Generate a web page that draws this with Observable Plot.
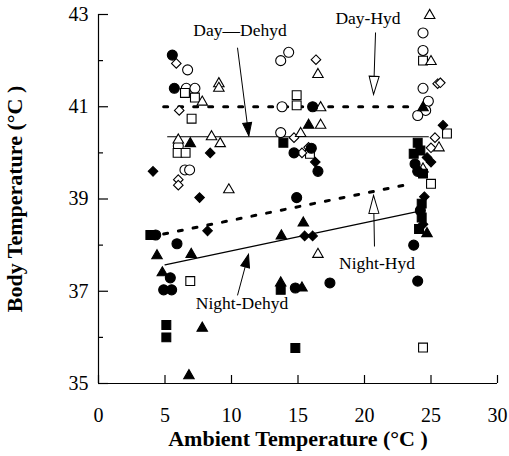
<!DOCTYPE html>
<html><head><meta charset="utf-8">
<script src="https://cdn.jsdelivr.net/npm/d3@7"></script>
<script src="https://cdn.jsdelivr.net/npm/@observablehq/plot@0.6"></script>
<style>body{margin:0;background:#fff} svg{display:block}</style>
</head><body><div id="chart"></div>
<script>
// ---- data (x = ambient temperature, y = body temperature) ----
const openCircle = [[6.7,41.8],[6.6,41.4],[7.25,41.4],[6.0,40.15],[6.5,39.63],[6.85,39.63],
  [13.7,42.0],[14.3,42.18],[13.8,41.0],[13.7,40.44],
  [24.4,42.6],[24.4,42.22],[24.4,41.4],[24.8,41.12],[24.6,40.92],[24.0,40.81]];
const openDiamond = [[5.85,41.94],[6.07,40.92],[6.0,39.42],[6.0,39.3],[16.35,42.02],[14.7,40.33],
  [15.3,40.0],[15.8,40.12],[25.5,41.5],[25.7,41.52],[25.3,40.33],[25.0,40.11]];
const openSquare = [[6.5,41.3],[7.25,41.2],[7.0,40.74],[5.95,40.0],[6.55,40.0],[6.9,37.22],
  [14.9,41.25],[14.9,41.03],[15.9,39.98],[24.4,42.0],[26.2,40.42],[25.0,39.33],[24.4,35.78]];
const openTriangle = [[7.8,41.1],[9.05,41.5],[9.05,41.4],[6.0,40.28],[8.5,40.35],[9.15,40.2],[9.8,39.2],
  [16.5,41.7],[16.7,40.98],[16.7,40.6],[15.2,40.42],[16.5,37.8],
  [24.9,42.98],[25.0,41.98],[25.6,40.11],[24.4,39.65]];
const filledCircle = [[5.55,42.12],[5.7,41.4],[4.3,38.22],[5.9,38.03],[5.4,37.29],[4.9,37.03],[5.5,37.03],
  [14.7,40.0],[16.0,40.1],[16.5,39.6],[14.9,39.03],[16.1,41.0],[14.8,37.07],[17.4,37.18],
  [23.8,39.76],[24.0,39.6],[24.2,38.75],[23.7,38.0],[24.0,37.22]];
const filledDiamond = [[8.4,40.0],[4.1,39.6],[7.6,39.03],[8.2,38.31],[16.3,39.8],[15.5,38.2],[16.1,38.2],
  [25.9,40.6],[24.7,39.9],[25.0,39.8],[24.5,39.05],[24.4,38.45]];
const filledSquare = [[3.9,38.22],[5.1,36.27],[5.1,36.0],[13.9,40.22],[13.7,37.03],[14.8,35.77],
  [24.0,40.22],[24.2,40.05],[23.7,39.98],[24.4,39.55],[24.3,38.9],[24.3,38.6],[24.1,38.35]];
const filledTriangle = [[6.9,40.2],[4.4,37.77],[6.97,37.8],[4.8,37.4],[7.8,36.2],[6.8,35.17],
  [15.8,40.6],[15.4,38.48],[13.75,38.2],[13.7,37.18],[15.3,37.07],[24.7,38.25],[24.4,40.98]];

// regression lines
const lineDayHyd = [[4.9,41.0],[23.6,41.0]];
const lineDayDehyd = [[5.2,40.35],[24.8,40.35]];
const lineNightHyd = [[4.9,38.24],[23.5,39.33]];
const lineNightDehyd = [[5.0,37.57],[24.5,38.76]];

// ticks
const xTicks = [0,5,10,15,20,25,30];
const yMajorTicks = [35,37,39,41,43];
const yMinorTicks = [36,38,40,42];

// annotations
const labels = [
  {text:"Day\u2014Dehyd", x:10.64, y:42.65},
  {text:"Day-Hyd", x:20.26, y:42.91},
  {text:"Night-Hyd", x:20.94, y:37.6},
  {text:"Night-Dehyd", x:10.79, y:36.73}
];
const arrows = [
  {x1:10.45, y1:42.28, x2:11.3, y2:40.37, head:"filled"},
  {x1:20.83, y1:42.61, x2:20.68, y2:41.27, head:"open"},
  {x1:20.75, y1:37.97, x2:20.68, y2:39.08, head:"open"},
  {x1:10.45, y1:36.91, x2:11.28, y2:37.8, head:"filled"}
];

// ---- layout ----
const W = 509, H = 456, mL = 98, mR = 12, mT = 14, mB = 73;
const xs = d3.scaleLinear([0,30],[mL, W-mR]);
const ys = d3.scaleLinear([35,43],[H-mB, mT]);
arrows.forEach(a => { a.angle = Math.atan2(xs(a.x2)-xs(a.x1), -(ys(a.y2)-ys(a.y1))) * 180/Math.PI; });

const serif = "'Liberation Serif','Times New Roman',Times,serif";
const headFilled = {draw(c){ c.moveTo(0,0); c.lineTo(-4.5,13); c.lineTo(4.5,13); c.closePath(); }};
const headOpen = {draw(c){ c.moveTo(0,0); c.lineTo(-5,18); c.lineTo(5,18); c.closePath(); }};

const dots = (data, symbol, r, filled) => Plot.dot(data, {
  x: d => d[0], y: d => d[1], symbol, r,
  fill: filled ? "black" : "white", stroke: "black", strokeWidth: 1.1
});
const line = (data, dashed) => Plot.line(data, {
  x: d => d[0], y: d => d[1], stroke: "black",
  strokeWidth: dashed ? 3 : 1.2, strokeDasharray: dashed ? "4,11" : null
});

const chart = Plot.plot({
  width: W, height: H, marginLeft: mL, marginRight: mR, marginTop: mT, marginBottom: mB,
  style: {fontFamily: serif, background: "white", color: "black"},
  x: {domain: [0,30]},
  y: {domain: [35,43]},
  marks: [
    Plot.ruleX([0], {y1: 35, y2: 43, stroke: "black", strokeWidth: 1.2}),
    Plot.ruleY([35], {x1: 0, x2: 30, stroke: "black", strokeWidth: 1.2}),
    Plot.axisY(yMajorTicks, {tickSize: -10, tickPadding: 20, fontSize: 20, label: null, strokeWidth: 1.2}),
    Plot.axisY(yMinorTicks, {tickSize: -5, tickFormat: () => "", label: null, strokeWidth: 1.2}),
    Plot.axisX(xTicks, {anchor: "bottom", tickSize: -8, tickPadding: 32, fontSize: 20, label: null, strokeWidth: 1.2}),
    line(lineDayHyd, true),
    line(lineDayDehyd, false),
    line(lineNightHyd, true),
    line(lineNightDehyd, false),
    dots(openCircle, "circle", 5, false),
    dots(openSquare, "square", 5, false),
    dots(openDiamond, "diamond2", 4.3, false),
    dots(openTriangle, "triangle2", 5, false),
    dots(filledCircle, "circle", 5, true),
    dots(filledSquare, "square", 5, true),
    dots(filledDiamond, "diamond2", 4.3, true),
    dots(filledTriangle, "triangle2", 5, true),
    Plot.link(arrows, {x1: "x1", y1: "y1", x2: "x2", y2: "y2", stroke: "black", strokeWidth: 1}),
    Plot.dot(arrows.filter(a => a.head === "filled"), {x: "x2", y: "y2", rotate: "angle", symbol: headFilled, fill: "black", stroke: "black", strokeWidth: 1}),
    Plot.dot(arrows.filter(a => a.head === "open"), {x: "x2", y: "y2", rotate: "angle", symbol: headOpen, fill: "white", stroke: "black", strokeWidth: 1}),
    Plot.text(labels, {x: "x", y: "y", text: "text", fontSize: 17.5, fill: "black"}),
    Plot.text(["Ambient Temperature (\u00B0C )"], {text: d => d, frameAnchor: "bottom", textAnchor: "middle", dy: 62, fontSize: 22, fontWeight: "bold", fill: "black"}),
    Plot.text(["Body Temperature (\u00B0C )"], {text: d => d, frameAnchor: "left", textAnchor: "middle", dx: -84, rotate: -90, fontSize: 22, fontWeight: "bold", fill: "black"})
  ]
});
document.getElementById("chart").append(chart);
</script>
</body></html>
